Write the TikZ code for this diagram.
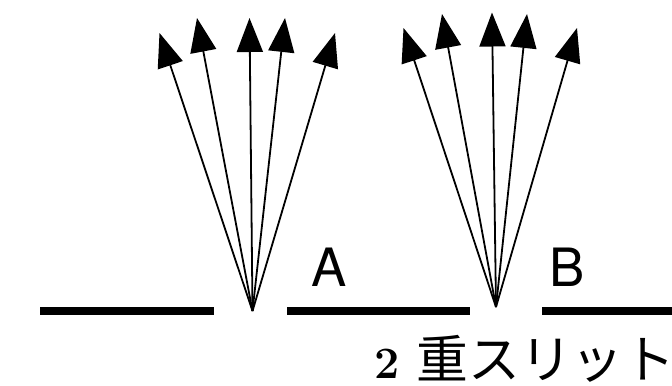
\documentclass[tikz,border=0pt]{standalone}
\usepackage{fontspec}
\newfontfamily\cjk{Noto Sans CJK JP}
\newfontfamily\heros{TeX Gyre Heros}
\usetikzlibrary{arrows.meta}
\begin{document}
\begin{tikzpicture}[x=1bp,y=-1bp,
  ray/.style={line width=1.8bp,-{Triangle[length=34bp,width=26bp]}},
  barrier/.style={line width=8.5bp},
  lbl/.style={font=\heros\fontsize{53}{53}\selectfont,inner sep=0pt,anchor=base}]
\useasboundingbox (0,0) rectangle (672,385);
\clip (0,0) rectangle (672,385);
% barrier
\coordinate (b1s) at (40,311);  \coordinate (b1e) at (214,311);
\coordinate (b2s) at (287,311); \coordinate (b2e) at (470,311);
\coordinate (b3s) at (542,311); \coordinate (b3e) at (680,311);
\draw[barrier] (b1s) -- (b1e);
\draw[barrier] (b2s) -- (b2e);
\draw[barrier] (b3s) -- (b3e);
% slit A rays
\coordinate (sa) at (252.5,311);
\coordinate (a1) at (159.5,33);
\coordinate (a2) at (197,18);
\coordinate (a3) at (249.5,18);
\coordinate (a4) at (285,18);
\coordinate (a5) at (335,33);
\foreach \t in {a1,a2,a3,a4,a5} \draw[ray] (sa) -- (\t);
% slit B rays
\coordinate (sb) at (496,307);
\coordinate (c1) at (403.5,28);
\coordinate (c2) at (442,14);
\coordinate (c3) at (492,12.5);
\coordinate (c4) at (527,14);
\coordinate (c5) at (577,28);
\foreach \t in {c1,c2,c3,c4,c5} \draw[ray] (sb) -- (\t);
% labels
\node[lbl] (la) at (329,286.5) {A};
\node[lbl] (lb) at (567.5,286.5) {B};
\node[inner sep=0pt,anchor=base west] (cap) at (374,378.5)
  {{\fontsize{45}{45}\selectfont\bfseries 2}\hspace{17bp}{\cjk\fontsize{52}{52}\selectfont 重スリット}};
\end{tikzpicture}
\end{document}
